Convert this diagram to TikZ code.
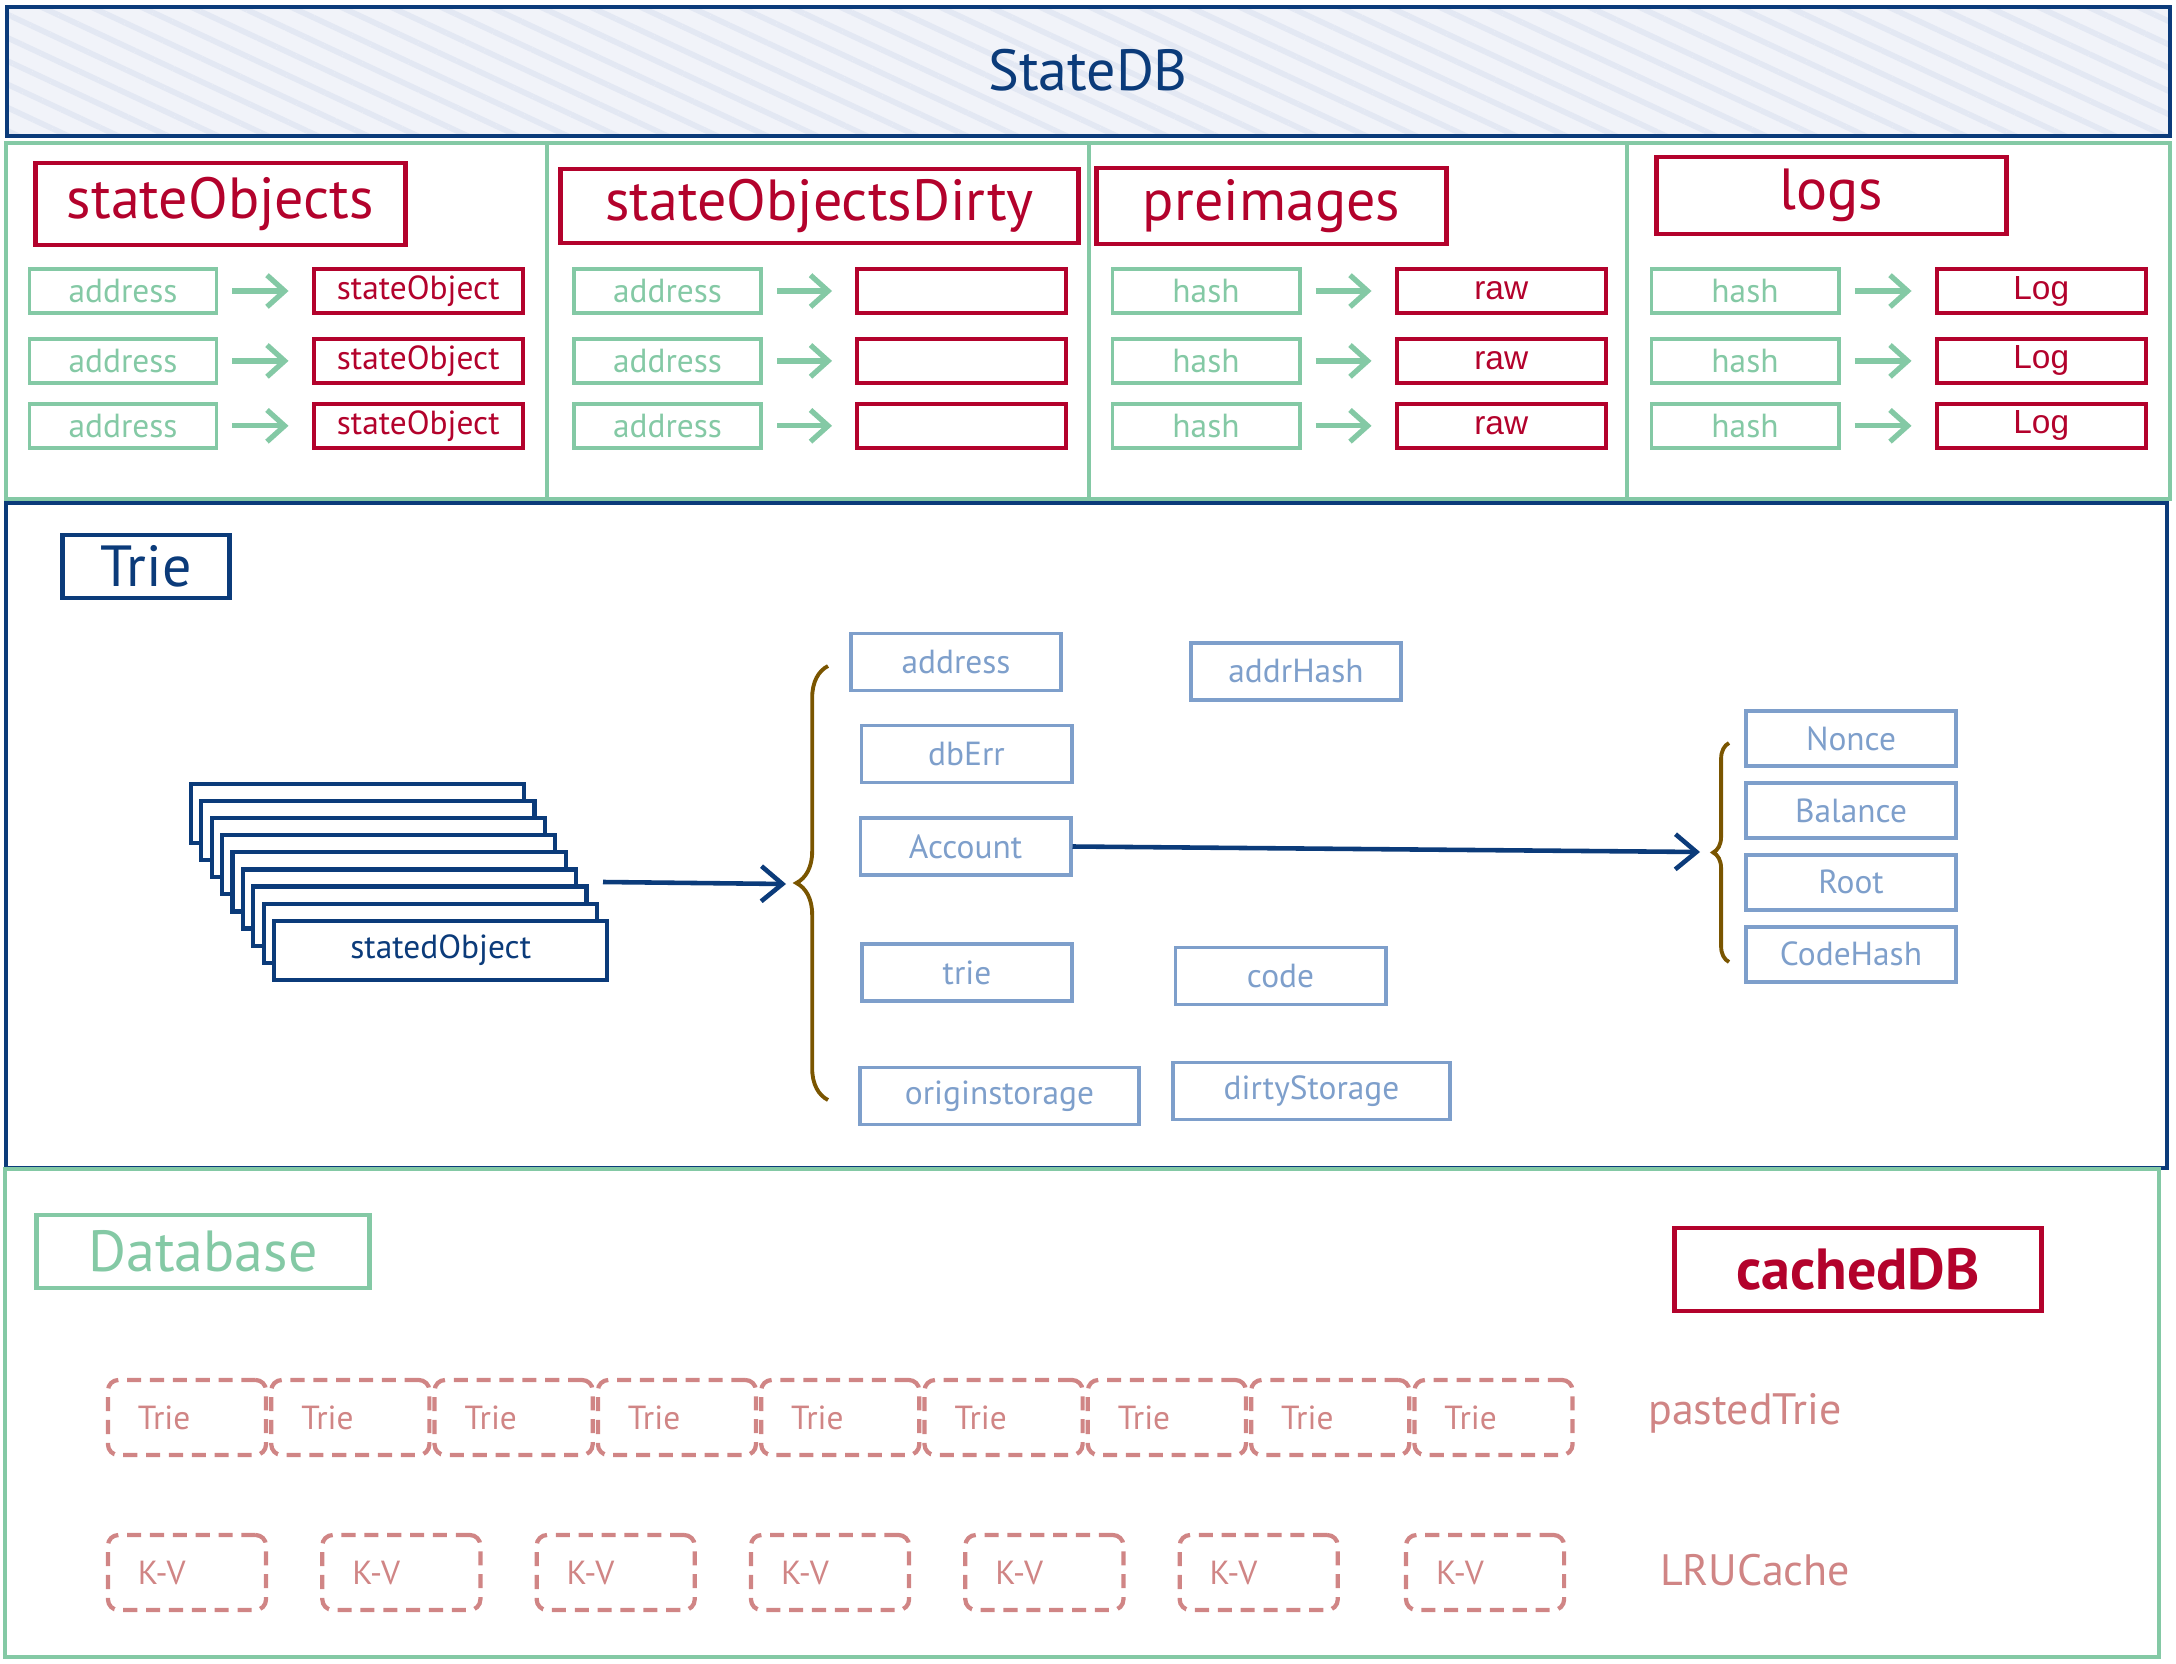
\documentclass[tikz,border=0pt]{standalone}
\usepackage{fontspec}
\setmainfont{PT Sans}
\newfontfamily\arialfont{Liberation Sans}
\usetikzlibrary{arrows.meta,positioning,decorations.pathreplacing,patterns.meta}

\definecolor{dbblue}{HTML}{0B3B7A}
\definecolor{dbred}{HTML}{B3022C}
\definecolor{dbgreen}{HTML}{84C9A5}
\definecolor{fieldblue}{HTML}{7E9FCB}
\definecolor{dashpink}{HTML}{D08585}
\definecolor{bracebrown}{HTML}{7A5500}
\definecolor{statefill}{HTML}{F1F3F9}
\definecolor{statehatch}{HTML}{E3E8F3}

\newcommand{\dbsmall}{\fontsize{9.5}{11}\selectfont}
\newcommand{\dbbig}{\fontsize{16.5}{20}\selectfont}
\newcommand{\dblabel}{\fontsize{12.5}{15}\selectfont}

\begin{document}
\begin{tikzpicture}[x=0.01cm,y=-0.01cm,
    titlebox/.style={draw=#1, text=#1, line width=1.4pt, inner sep=0pt, font=\dbbig},
    keybox/.style={draw=dbgreen, text=dbgreen, line width=1.1pt, minimum width=1.87cm, minimum height=0.44cm, inner sep=0pt, font=\dbsmall},
    valbox/.style={draw=dbred, text=dbred, line width=1.2pt, minimum width=2.09cm, minimum height=0.44cm, inner sep=0pt, font=\dbsmall},
    fieldbox/.style={draw=fieldblue, text=fieldblue, line width=1.1pt, minimum width=2.1cm, minimum height=0.57cm, inner sep=0pt, font=\dbsmall},
    objbox/.style={draw=dbblue, fill=white, text=dbblue, line width=1.2pt, minimum width=3.33cm, minimum height=0.59cm, inner sep=0pt, font=\dbsmall},
    cachebox/.style={draw=dashpink, text=dashpink, line width=1.2pt, dash pattern=on 4pt off 2.5pt, rounded corners=3pt, minimum width=1.58cm, minimum height=0.75cm, text width=0.98cm, inner xsep=0.3cm, inner ysep=0pt, align=left, font=\dbsmall},
    keyarrow/.style={draw=dbgreen, line width=1.5pt, -{Straight Barb[length=5pt,width=9pt]}, shorten <=0.14cm, shorten >=0.23cm},
    objarrow/.style={draw=dbblue, line width=1.3pt, -{Straight Barb[length=6pt,width=10pt]}},
    fieldbrace/.style={draw=bracebrown, line width=1.1pt, decorate, decoration={brace, amplitude=#1}}
  ]
  \useasboundingbox (0,0) rectangle (2176,1664);

  % frames
  \fill[statefill] (7,7) rectangle (2170,136);
  \fill[pattern={Lines[angle=-25, distance=6pt, line width=1.6pt]}, pattern color=statehatch] (7,7) rectangle (2170,136);
  \draw[dbblue, line width=1.4pt] (7,7) rectangle (2170,136);
  \node[text=dbblue, font=\dbbig] (statedb) at (1088,70) {StateDB};
  \draw[dbgreen, line width=1.1pt] (6,143) rectangle (547,499);
  \draw[dbgreen, line width=1.1pt] (547,143) rectangle (1089,499);
  \draw[dbgreen, line width=1.1pt] (1089,143) rectangle (1627,499);
  \draw[dbgreen, line width=1.1pt] (1627,143) rectangle (2170,499);
  \draw[dbblue, line width=0.9pt] (6,503) rectangle (2167,1168);
  \draw[dbgreen, line width=1.1pt] (5,1169) rectangle (2159,1657);

  % stateObjects
  \node[titlebox=dbred, minimum width=3.69cm, minimum height=0.82cm] (objsTitle) at (220.5,204) {stateObjects};
  \node[keybox] (objsKey1) at (123,291) {address};
  \node[keybox, below=0.22cm of objsKey1] (objsKey2) {address};
  \node[keybox, below=0.17cm of objsKey2] (objsKey3) {address};
  \node[valbox, right=0.93cm of objsKey1] (objsVal1) {stateObject};
  \node[valbox, right=0.93cm of objsKey2] (objsVal2) {stateObject};
  \node[valbox, right=0.93cm of objsKey3] (objsVal3) {stateObject};
  \draw[keyarrow] (objsKey1) -- (objsVal1);
  \draw[keyarrow] (objsKey2) -- (objsVal2);
  \draw[keyarrow] (objsKey3) -- (objsVal3);

  % stateObjectsDirty
  \node[titlebox=dbred, minimum width=5.17cm, minimum height=0.74cm] (dirtyTitle) at (819.5,206) {stateObjectsDirty};
  \node[keybox] (dirtyKey1) at (667.5,291) {address};
  \node[keybox, below=0.22cm of dirtyKey1] (dirtyKey2) {address};
  \node[keybox, below=0.17cm of dirtyKey2] (dirtyKey3) {address};
  \node[valbox, right=0.92cm of dirtyKey1] (dirtyVal1) {};
  \node[valbox, right=0.92cm of dirtyKey2] (dirtyVal2) {};
  \node[valbox, right=0.92cm of dirtyKey3] (dirtyVal3) {};
  \draw[keyarrow] (dirtyKey1) -- (dirtyVal1);
  \draw[keyarrow] (dirtyKey2) -- (dirtyVal2);
  \draw[keyarrow] (dirtyKey3) -- (dirtyVal3);

  % preimages
  \node[titlebox=dbred, minimum width=3.49cm, minimum height=0.76cm] (preTitle) at (1271.5,206) {preimages};
  \node[keybox] (preKey1) at (1206,291) {hash};
  \node[keybox, below=0.22cm of preKey1] (preKey2) {hash};
  \node[keybox, below=0.17cm of preKey2] (preKey3) {hash};
  \node[valbox, right=0.93cm of preKey1, font=\arialfont\dbsmall] (preVal1) {raw};
  \node[valbox, right=0.93cm of preKey2, font=\arialfont\dbsmall] (preVal2) {raw};
  \node[valbox, right=0.93cm of preKey3, font=\arialfont\dbsmall] (preVal3) {raw};
  \draw[keyarrow] (preKey1) -- (preVal1);
  \draw[keyarrow] (preKey2) -- (preVal2);
  \draw[keyarrow] (preKey3) -- (preVal3);

  % logs
  \node[titlebox=dbred, minimum width=3.49cm, minimum height=0.77cm] (logsTitle) at (1831.5,195.5) {logs};
  \node[keybox] (logsKey1) at (1745,291) {hash};
  \node[keybox, below=0.22cm of logsKey1] (logsKey2) {hash};
  \node[keybox, below=0.17cm of logsKey2] (logsKey3) {hash};
  \node[valbox, right=0.94cm of logsKey1, font=\arialfont\dbsmall] (logsVal1) {Log};
  \node[valbox, right=0.94cm of logsKey2, font=\arialfont\dbsmall] (logsVal2) {Log};
  \node[valbox, right=0.94cm of logsKey3, font=\arialfont\dbsmall] (logsVal3) {Log};
  \draw[keyarrow] (logsKey1) -- (logsVal1);
  \draw[keyarrow] (logsKey2) -- (logsVal2);
  \draw[keyarrow] (logsKey3) -- (logsVal3);

  % Trie
  \node[titlebox=dbblue, minimum width=1.66cm, minimum height=0.63cm] (trieTitle) at (146,566.5) {Trie};
  \node[objbox] (obj1) at (357.5,813.5) {};
  \node[objbox] (obj2) at (367.9,830.6) {};
  \node[objbox] (obj3) at (378.3,847.7) {};
  \node[objbox] (obj4) at (388.7,864.8) {};
  \node[objbox] (obj5) at (399.1,881.9) {};
  \node[objbox] (obj6) at (409.5,899.0) {};
  \node[objbox] (obj7) at (419.9,916.1) {};
  \node[objbox] (obj8) at (430.3,933.2) {};
  \node[objbox] (obj9) at (440.7,950.3) {statedObject};
  \coordinate (stackOut) at (603,882);
  \coordinate (fieldsIn) at (786,884);
  \draw[objarrow] (stackOut) -- (fieldsIn);
  \draw[fieldbrace=9pt] (828,1100) -- (828,666);

  \node[fieldbox] (fAddress) at (956,662) {address};
  \node[fieldbox] (fAddrHash) at (1296,671.5) {addrHash};
  \node[fieldbox] (fDbErr) at (966.5,754) {dbErr};
  \node[fieldbox] (fAccount) at (965.5,846.5) {Account};
  \node[fieldbox] (fTrie) at (967,972.5) {trie};
  \node[fieldbox] (fCode) at (1280.5,976) {code};
  \node[fieldbox, minimum width=2.79cm] (fOrigin) at (999.5,1096) {originstorage};
  \node[fieldbox, minimum width=2.77cm] (fDirty) at (1311.5,1091) {dirtyStorage};

  \node[fieldbox, minimum height=0.55cm] (aNonce) at (1851,738.5) {Nonce};
  \node[fieldbox, minimum height=0.55cm, below=0.13cm of aNonce] (aBalance) {Balance};
  \node[fieldbox, minimum height=0.55cm, below=0.13cm of aBalance] (aRoot) {Root};
  \node[fieldbox, minimum height=0.55cm, below=0.13cm of aRoot] (aCodeHash) {CodeHash};
  \coordinate (accountIn) at (1700,852);
  \draw[objarrow] (fAccount.east) -- (accountIn);
  \draw[fieldbrace=4.5pt] (1729,962) -- (1729,743);

  % Database
  \node[titlebox=dbgreen, minimum width=3.32cm, minimum height=0.73cm] (dbTitle) at (203,1251.5) {Database};
  \node[titlebox=dbred, minimum width=3.66cm, minimum height=0.83cm, font=\dbbig\bfseries] (cachedTitle) at (1858,1269.5) {cachedDB};

  \node[cachebox] (trie1) at (187,1417.5) {Trie};
  \node[cachebox, right=0.01cm of trie1] (trie2) {Trie};
  \node[cachebox, right=0.01cm of trie2] (trie3) {Trie};
  \node[cachebox, right=0.01cm of trie3] (trie4) {Trie};
  \node[cachebox, right=0.01cm of trie4] (trie5) {Trie};
  \node[cachebox, right=0.01cm of trie5] (trie6) {Trie};
  \node[cachebox, right=0.01cm of trie6] (trie7) {Trie};
  \node[cachebox, right=0.01cm of trie7] (trie8) {Trie};
  \node[cachebox, right=0.01cm of trie8] (trie9) {Trie};
  \node[text=dashpink, font=\dblabel] (pastedLabel) at (1745,1413) {pastedTrie};

  \node[cachebox] (kv1) at (187,1572.5) {K-V};
  \node[cachebox, right=0.52cm of kv1] (kv2) {K-V};
  \node[cachebox, right=0.52cm of kv2] (kv3) {K-V};
  \node[cachebox, right=0.52cm of kv3] (kv4) {K-V};
  \node[cachebox, right=0.52cm of kv4] (kv5) {K-V};
  \node[cachebox, right=0.52cm of kv5] (kv6) {K-V};
  \node[cachebox, right=0.64cm of kv6] (kv7) {K-V};
  \node[text=dashpink, font=\dblabel] (lruLabel) at (1755,1570) {LRUCache};
\end{tikzpicture}
\end{document}
